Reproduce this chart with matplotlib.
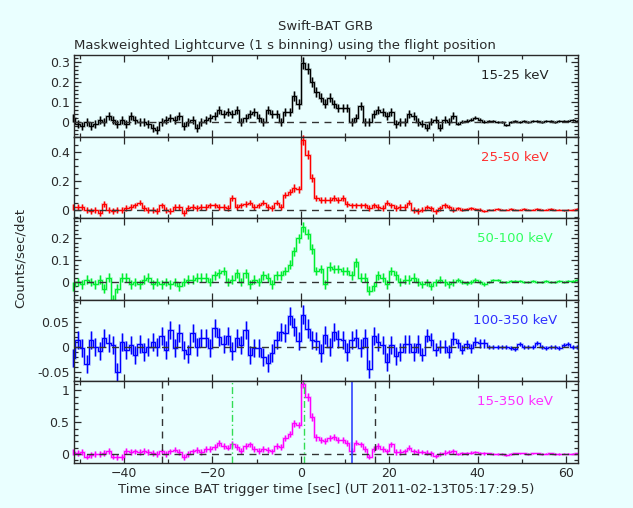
import numpy as np
import matplotlib
matplotlib.use("Agg")
import matplotlib.pyplot as plt
from matplotlib.ticker import FixedLocator, MultipleLocator, FixedFormatter

plt.rcParams['font.family'] = ['DejaVu Sans']

# ---------------- data ----------------
# 1-s bins, edges from -52 s to 63 s (115 bins)
bin_edges = np.arange(-52, 64, 1)

band_labels = ["15-25 keV", "25-50 keV", "50-100 keV", "100-350 keV", "15-350 keV"]

rate_15_25 = [
    0.02, -0.01, -0.02, 0.0, -0.02, -0.01, 0.01, 0.0, 0.03, 0.01,
    -0.01, 0.01, -0.01, 0.03, 0.01, 0.0, 0.0, -0.01, -0.03, -0.04,
    0.0, 0.01, 0.02, 0.01, 0.03, -0.02, 0.0, 0.01, -0.03, 0.0,
    0.01, 0.02, 0.03, 0.06, 0.04, 0.05, 0.04, 0.06, 0.0, 0.02,
    0.04, 0.05, 0.02, 0.0, 0.06, 0.04, 0.04, 0.0, 0.05, 0.05,
    0.13, 0.09, 0.295, 0.265, 0.2, 0.15, 0.12, 0.09, 0.12, 0.09,
    0.07, 0.07, 0.07, 0.0, 0.02, 0.08, 0.0, 0.0, 0.04, 0.06,
    0.05, 0.03, 0.05, -0.01, 0.0, 0.0, 0.04, 0.03, 0.0, -0.01,
    -0.03, 0.0, 0.01, -0.03, 0.01, 0.0, 0.03, -0.01, 0.0, 0.005,
    0.01, 0.02, 0.01, 0.0, 0.005, 0.005, 0.0, 0.0, -0.015, 0.0,
    0.005, 0.0, 0.005, 0.0, 0.005, 0.005, 0.0, 0.005, 0.005, 0.0,
    0.005, 0.005, 0.005, 0.01, 0.005]
err_15_25 = [
    0.02, 0.02, 0.02, 0.02, 0.02, 0.02, 0.02, 0.02, 0.02, 0.02,
    0.02, 0.02, 0.02, 0.02, 0.02, 0.02, 0.02, 0.02, 0.02, 0.02,
    0.02, 0.02, 0.02, 0.02, 0.02, 0.02, 0.02, 0.02, 0.02, 0.02,
    0.02, 0.02, 0.02, 0.02, 0.02, 0.02, 0.02, 0.02, 0.02, 0.02,
    0.02, 0.02, 0.02, 0.02, 0.02, 0.02, 0.02, 0.02, 0.02, 0.02,
    0.025, 0.025, 0.028, 0.028, 0.025, 0.025, 0.022, 0.022, 0.022, 0.02,
    0.02, 0.02, 0.02, 0.02, 0.02, 0.02, 0.02, 0.02, 0.02, 0.02,
    0.02, 0.02, 0.02, 0.02, 0.02, 0.02, 0.02, 0.02, 0.02, 0.016,
    0.016, 0.016, 0.016, 0.016, 0.016, 0.016, 0.016, 0.009, 0.009, 0.009,
    0.009, 0.009, 0.009, 0.009, 0.005, 0.005, 0.005, 0.005, 0.005, 0.005,
    0.005, 0.005, 0.005, 0.005, 0.005, 0.005, 0.005, 0.005, 0.005, 0.005,
    0.005, 0.005, 0.005, 0.005, 0.005]

rate_25_50 = [
    0.02, 0.02, 0.02, 0.0, -0.01, 0.0, -0.02, 0.04, 0.0, -0.01,
    0.0, 0.0, 0.01, 0.02, 0.03, 0.05, 0.01, 0.0, 0.0, -0.01,
    0.03, 0.0, -0.01, 0.02, 0.02, -0.02, 0.01, 0.02, 0.01, 0.02,
    0.02, 0.03, 0.03, 0.02, 0.02, 0.01, 0.08, 0.02, 0.03, 0.04,
    0.05, 0.02, 0.03, 0.05, 0.02, 0.01, 0.05, 0.02, 0.1, 0.12,
    0.15, 0.14, 0.48, 0.38, 0.22, 0.08, 0.07, 0.07, 0.07, 0.08,
    0.07, 0.08, 0.04, 0.03, 0.03, 0.03, 0.03, 0.01, 0.03, 0.02,
    0.01, 0.05, 0.03, 0.01, 0.02, 0.02, 0.05, 0.0, -0.01, 0.0,
    0.02, 0.01, -0.01, 0.01, 0.03, 0.02, 0.0, 0.01, 0.0, 0.005,
    0.01, 0.005, 0.0, -0.01, 0.0, 0.0, 0.005, 0.0, 0.0, 0.005,
    0.0, 0.0, 0.005, 0.0, 0.0, 0.005, 0.0, 0.0, 0.005, 0.0,
    0.0, -0.005, 0.0, 0.0, 0.005]
err_25_50 = [
    0.02, 0.02, 0.02, 0.02, 0.02, 0.02, 0.02, 0.02, 0.02, 0.02,
    0.02, 0.02, 0.02, 0.02, 0.02, 0.02, 0.02, 0.02, 0.02, 0.02,
    0.02, 0.02, 0.02, 0.02, 0.02, 0.02, 0.02, 0.02, 0.02, 0.02,
    0.02, 0.02, 0.02, 0.02, 0.02, 0.02, 0.02, 0.02, 0.02, 0.02,
    0.02, 0.02, 0.02, 0.02, 0.02, 0.02, 0.02, 0.02, 0.02, 0.02,
    0.025, 0.025, 0.035, 0.03, 0.028, 0.02, 0.02, 0.02, 0.02, 0.02,
    0.02, 0.02, 0.02, 0.02, 0.02, 0.02, 0.02, 0.02, 0.02, 0.02,
    0.02, 0.02, 0.02, 0.02, 0.02, 0.02, 0.02, 0.02, 0.02, 0.016,
    0.016, 0.016, 0.016, 0.016, 0.016, 0.016, 0.016, 0.009, 0.009, 0.009,
    0.009, 0.009, 0.009, 0.009, 0.005, 0.005, 0.005, 0.005, 0.005, 0.005,
    0.005, 0.005, 0.005, 0.005, 0.005, 0.005, 0.005, 0.005, 0.005, 0.005,
    0.005, 0.005, 0.005, 0.005, 0.005]

rate_50_100 = [
    -0.02, 0.0, -0.01, 0.01, 0.0, -0.01, 0.01, -0.03, 0.02, -0.08,
    -0.03, 0.02, 0.02, -0.01, 0.0, -0.01, 0.01, 0.02, -0.01, 0.0,
    -0.01, 0.0, -0.01, 0.0, -0.02, 0.0, 0.01, 0.01, 0.02, 0.02,
    0.02, 0.0, 0.03, 0.04, 0.05, 0.0, 0.01, 0.04, 0.0, 0.04,
    -0.01, 0.01, 0.0, 0.03, 0.02, -0.01, 0.03, 0.03, 0.05, 0.08,
    0.14, 0.2, 0.25, 0.22, 0.15, 0.05, 0.06, -0.01, 0.07, 0.06,
    0.06, 0.05, 0.05, 0.03, 0.09, 0.02, 0.02, -0.04, -0.02, 0.03,
    0.02, -0.01, 0.05, 0.03, 0.0, 0.01, 0.01, 0.02, 0.0, -0.01,
    0.0, -0.02, 0.0, 0.01, 0.0, -0.01, 0.0, 0.01, 0.0, -0.005,
    0.0, 0.01, 0.0, -0.01, 0.0, 0.01, 0.01, 0.0, 0.0, 0.005,
    0.005, 0.005, 0.0, 0.0, 0.005, 0.0, 0.0, 0.005, 0.0, 0.0,
    0.005, 0.0, 0.005, 0.005, 0.01]
err_50_100 = [
    0.02, 0.02, 0.02, 0.02, 0.02, 0.02, 0.02, 0.02, 0.02, 0.02,
    0.02, 0.02, 0.02, 0.02, 0.02, 0.02, 0.02, 0.02, 0.02, 0.02,
    0.02, 0.02, 0.02, 0.02, 0.02, 0.02, 0.02, 0.02, 0.02, 0.02,
    0.02, 0.02, 0.02, 0.02, 0.02, 0.02, 0.02, 0.02, 0.02, 0.02,
    0.02, 0.02, 0.02, 0.02, 0.02, 0.02, 0.02, 0.02, 0.02, 0.02,
    0.022, 0.022, 0.023, 0.023, 0.022, 0.02, 0.02, 0.02, 0.02, 0.02,
    0.02, 0.02, 0.02, 0.02, 0.02, 0.02, 0.02, 0.02, 0.02, 0.02,
    0.02, 0.02, 0.02, 0.02, 0.02, 0.02, 0.02, 0.02, 0.02, 0.016,
    0.016, 0.016, 0.016, 0.016, 0.016, 0.016, 0.016, 0.009, 0.009, 0.009,
    0.009, 0.009, 0.009, 0.009, 0.005, 0.005, 0.005, 0.005, 0.005, 0.005,
    0.005, 0.005, 0.005, 0.005, 0.005, 0.005, 0.005, 0.005, 0.005, 0.005,
    0.005, 0.005, 0.005, 0.005, 0.005]

rate_100_350 = [
    -0.022, 0.015, -0.002, -0.034, 0.015, 0.001, -0.007, 0.018, 0.008, 0.005,
    -0.05, 0.011, -0.005, 0.005, -0.015, 0.006, -0.01, 0.0, 0.011, 0.0,
    0.023, -0.005, 0.035, -0.002, 0.028, -0.005, -0.014, 0.028, 0.0, 0.018,
    0.018, -0.002, 0.039, 0.021, 0.006, 0.023, -0.007, 0.019, 0.005, 0.035,
    -0.015, -0.002, -0.002, -0.019, -0.032, -0.012, 0.015, 0.03, 0.028, 0.063,
    0.041, 0.013, 0.065, 0.037, 0.015, 0.013, -0.012, 0.025, 0.0, 0.031,
    0.017, 0.015, -0.009, 0.015, 0.019, -0.002, 0.019, -0.043, 0.023, 0.011,
    0.005, -0.029, 0.005, -0.017, -0.009, 0.006, 0.006, -0.009, 0.006, -0.015,
    0.023, 0.015, -0.005, 0.001, 0.001, -0.009, 0.017, 0.008, -0.005, 0.006,
    -0.002, 0.011, 0.008, 0.008, 0.0, 0.0, 0.001, 0.0, 0.0, -0.002,
    -0.003, 0.006, 0.001, 0.0, 0.0, 0.008, 0.0, -0.002, 0.0, 0.0,
    -0.002, 0.005, 0.006, 0.0, 0.0]
err_100_350 = [
    0.018, 0.018, 0.018, 0.018, 0.018, 0.018, 0.018, 0.018, 0.018, 0.018,
    0.018, 0.018, 0.018, 0.018, 0.018, 0.018, 0.018, 0.018, 0.018, 0.018,
    0.018, 0.018, 0.018, 0.018, 0.018, 0.018, 0.018, 0.018, 0.018, 0.018,
    0.018, 0.018, 0.018, 0.018, 0.018, 0.018, 0.018, 0.018, 0.018, 0.018,
    0.018, 0.018, 0.018, 0.018, 0.018, 0.018, 0.018, 0.018, 0.018, 0.018,
    0.018, 0.018, 0.019, 0.019, 0.018, 0.018, 0.018, 0.018, 0.018, 0.018,
    0.018, 0.018, 0.018, 0.018, 0.018, 0.018, 0.018, 0.018, 0.018, 0.018,
    0.018, 0.018, 0.018, 0.018, 0.018, 0.018, 0.018, 0.018, 0.018, 0.013,
    0.013, 0.013, 0.013, 0.013, 0.013, 0.013, 0.013, 0.009, 0.009, 0.009,
    0.009, 0.009, 0.009, 0.009, 0.004, 0.004, 0.004, 0.004, 0.004, 0.004,
    0.004, 0.004, 0.004, 0.004, 0.004, 0.004, 0.004, 0.004, 0.004, 0.004,
    0.004, 0.004, 0.004, 0.004, 0.004]

rate_15_350 = [
    0.03, 0.01, 0.03, -0.04, -0.02, 0.0, 0.0, 0.02, 0.05, -0.04,
    -0.05, -0.05, 0.05, 0.03, 0.04, 0.03, 0.05, 0.03, 0.02, 0.0,
    0.04, 0.0, 0.04, 0.07, 0.03, -0.05, 0.0, 0.04, 0.06, 0.03,
    0.08, 0.08, 0.11, 0.17, 0.13, 0.1, 0.16, 0.11, 0.05, 0.13,
    0.15, 0.08, 0.05, 0.08, 0.06, 0.04, 0.13, 0.11, 0.25, 0.31,
    0.48, 0.46, 1.1, 0.9, 0.58, 0.26, 0.22, 0.2, 0.25, 0.27,
    0.22, 0.22, 0.17, 0.05, 0.18, 0.15, 0.08, -0.04, 0.08, 0.13,
    0.08, 0.04, 0.15, 0.03, 0.03, 0.04, 0.1, 0.04, 0.03, 0.03,
    0.02, 0.01, -0.03, 0.0, 0.02, 0.03, 0.04, 0.0, 0.01, 0.01,
    0.02, 0.03, 0.01, 0.01, 0.01, 0.0, 0.0, 0.0, -0.02, 0.0,
    0.01, 0.01, 0.01, 0.0, 0.01, 0.01, 0.0, 0.005, 0.01, 0.0,
    0.0, 0.005, 0.005, 0.005, 0.01]
err_15_350 = [
    0.045, 0.045, 0.045, 0.045, 0.045, 0.045, 0.045, 0.045, 0.045, 0.045,
    0.045, 0.045, 0.045, 0.045, 0.045, 0.045, 0.045, 0.045, 0.045, 0.045,
    0.045, 0.045, 0.045, 0.045, 0.045, 0.045, 0.045, 0.045, 0.045, 0.045,
    0.045, 0.045, 0.045, 0.045, 0.045, 0.045, 0.045, 0.045, 0.045, 0.045,
    0.045, 0.045, 0.045, 0.045, 0.045, 0.045, 0.045, 0.045, 0.045, 0.045,
    0.05, 0.05, 0.07, 0.065, 0.06, 0.05, 0.045, 0.045, 0.045, 0.045,
    0.045, 0.045, 0.045, 0.045, 0.045, 0.045, 0.045, 0.045, 0.045, 0.045,
    0.045, 0.045, 0.045, 0.045, 0.045, 0.045, 0.045, 0.045, 0.045, 0.035,
    0.035, 0.035, 0.035, 0.035, 0.035, 0.035, 0.035, 0.02, 0.02, 0.02,
    0.02, 0.02, 0.02, 0.02, 0.012, 0.012, 0.012, 0.012, 0.012, 0.012,
    0.012, 0.012, 0.012, 0.012, 0.012, 0.012, 0.012, 0.012, 0.012, 0.012,
    0.012, 0.012, 0.012, 0.012, 0.012]

rates = [rate_15_25, rate_25_50, rate_50_100, rate_100_350, rate_15_350]
errors = [err_15_25, err_25_50, err_50_100, err_100_350, err_15_350]

# y ranges and tick values per panel
y_ranges = [(-0.075, 0.335), (-0.057, 0.506), (-0.08, 0.293), (-0.067, 0.095), (-0.134, 1.147)]
y_major = [[0, 0.1, 0.2, 0.3], [0, 0.2, 0.4], [0, 0.1, 0.2], [-0.05, 0, 0.05], [0, 0.5, 1]]
y_major_lbl = [["0", "0.1", "0.2", "0.3"], ["0", "0.2", "0.4"], ["0", "0.1", "0.2"],
               ["-0.05", "0", "0.05"], ["0", "0.5", "1"]]
y_minor_step = [0.02, 0.05, 0.02, 0.01, 0.1]

x_range = (-51.4, 62.7)

# time markers in the bottom panel
t100_bounds = [-31.4, 16.7]
t90_bounds = [-15.5, 0.7]
t_marker_blue = 11.5

# ---------------- style ----------------
bg = "#EAFFFF"
ink = "#2a2a2a"
line_colors = ["#000000", "#FF0000", "#00EE30", "#0000FF", "#FF00FF"]
label_colors = ["#222222", "#FF3030", "#30FF60", "#3030FF", "#FF30FF"]

fig = plt.figure(figsize=(6.33, 5.08), dpi=100, facecolor=bg)

left = 73.7 / 633
width = (578 - 73.7) / 633
ph = 81.5 / 508
bottom0 = 45.5 / 508

centers = 0.5 * (bin_edges[:-1] + bin_edges[1:])
axes = []
for i in range(5):
    b = bottom0 + (4 - i) * ph
    ax = fig.add_axes([left, b, width, ph], facecolor=bg)
    axes.append(ax)
    vals = np.array(rates[i])
    errs = np.array(errors[i])
    col = line_colors[i]
    # soft wide halo (mimics anti-aliased thick lines)
    ax.vlines(centers, vals - errs, vals + errs, colors=col, alpha=0.28, lw=2.2, clip_on=False, zorder=2)
    ax.stairs(vals, bin_edges, color=col, alpha=0.22, lw=2.0, zorder=2)
    ax.vlines(centers, vals - errs, vals + errs, colors=col, lw=0.8, clip_on=False, zorder=3)
    ax.stairs(vals, bin_edges, color=col, lw=0.85, zorder=3)
    ax.axhline(0, color="#333333", lw=1.0, dashes=(5, 4), zorder=4)

    ax.set_xlim(*x_range)
    ax.set_ylim(*y_ranges[i])
    ax.yaxis.set_major_locator(FixedLocator(y_major[i]))
    ax.yaxis.set_major_formatter(FixedFormatter(y_major_lbl[i]))
    ax.yaxis.set_minor_locator(MultipleLocator(y_minor_step[i]))
    ax.xaxis.set_major_locator(MultipleLocator(20))
    ax.xaxis.set_minor_locator(MultipleLocator(10))
    ax.tick_params(which="both", direction="in", top=True, right=True, color=ink,
                   labelsize=9, labelcolor=ink, width=0.9)
    ax.tick_params(which="major", length=5, pad=3)
    ax.tick_params(which="minor", length=3)
    if i < 4:
        ax.tick_params(labelbottom=False)
    for s in ax.spines.values():
        s.set_color(ink)
        s.set_linewidth(1.0)
        s.set_zorder(5)
    ax.text(0.875, 0.748, band_labels[i], transform=ax.transAxes, ha="center",
            va="center", color=label_colors[i], fontsize=9.5)

ax5 = axes[4]
for tb in t100_bounds:
    ax5.axvline(tb, color="#333333", lw=1.0, dashes=(5, 4), zorder=4)
for tb in t90_bounds:
    ax5.axvline(tb, color="#33DD55", lw=1.0, dashes=(5, 2, 1, 2), zorder=4)
ax5.axvline(t_marker_blue, color="#3344FF", lw=1.2, zorder=4)

fig.text(326 / 633, 1 - 27 / 508, "Swift-BAT GRB", ha="center", va="center",
         fontsize=9.5, color=ink)
fig.text(left, 1 - 45 / 508, "Maskweighted Lightcurve (1 s binning) using the flight position",
         ha="left", va="center", fontsize=9.5, color=ink)
fig.text(326 / 633, 1 - 490 / 508,
         "Time since BAT trigger time [sec] (UT 2011-02-13T05:17:29.5)",
         ha="center", va="center", fontsize=9.5, color=ink)
fig.text(20 / 633, 1 - 258.5 / 508, "Counts/sec/det", rotation=90, ha="center",
         va="center", fontsize=9.5, color=ink)

fig.savefig("out.png", dpi=100, facecolor=bg)
